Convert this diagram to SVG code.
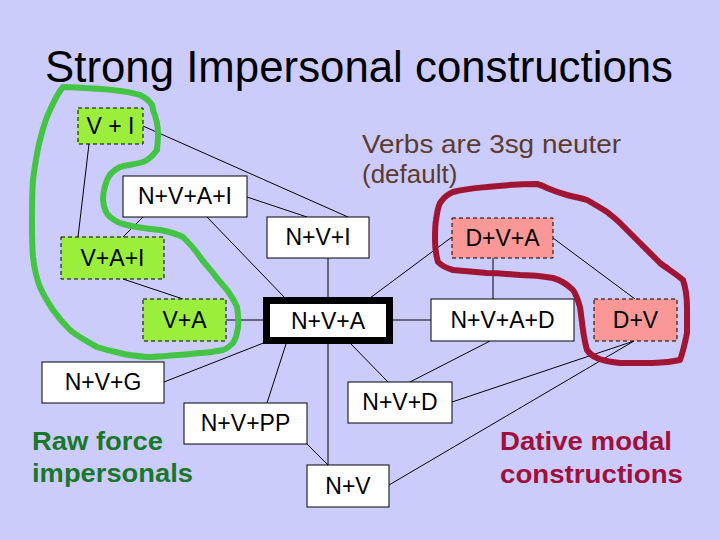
<svg xmlns="http://www.w3.org/2000/svg" width="720" height="540" viewBox="0 0 720 540">
<style>
.bg{fill:#ccccfc}
.n{fill:#ffffff;stroke:#000;stroke-width:1}
.g{fill:#9cee3c;stroke:#000;stroke-width:1;stroke-dasharray:4 3}
.r{fill:#fa9898;stroke:#000;stroke-width:1;stroke-dasharray:4 3}
.t{font-family:"Liberation Sans",Arial,sans-serif;font-size:23px;fill:#000;text-anchor:middle}
.c line{stroke:#000;stroke-width:1}
.blob{fill:none;stroke-width:6;stroke-linejoin:round;stroke-linecap:round}
</style>
<rect class="bg" x="0" y="0" width="720" height="540"/>
<text x="45" y="82" font-family="Liberation Sans,Arial,sans-serif" font-size="44" fill="#000" textLength="628" lengthAdjust="spacingAndGlyphs">Strong Impersonal constructions</text>
<g id="connectors" class="c">
<line x1="89" y1="144" x2="78" y2="237"/>
<line x1="143" y1="126" x2="348" y2="217"/>
<line x1="247" y1="197" x2="307" y2="217"/>
<line x1="143" y1="217" x2="123" y2="237"/>
<line x1="207" y1="217" x2="286" y2="299"/>
<line x1="123" y1="279" x2="183" y2="299"/>
<line x1="226" y1="320" x2="263" y2="320"/>
<line x1="328" y1="258" x2="328" y2="297"/>
<line x1="370" y1="298" x2="452" y2="237"/>
<line x1="393" y1="320" x2="431" y2="320"/>
<line x1="493" y1="258" x2="493" y2="299"/>
<line x1="553" y1="238" x2="635" y2="299"/>
<line x1="266" y1="342" x2="164" y2="382"/>
<line x1="286" y1="344" x2="267" y2="403"/>
<line x1="328" y1="344" x2="328" y2="465"/>
<line x1="349" y1="342" x2="388" y2="382"/>
<line x1="490" y1="341" x2="410" y2="382"/>
<line x1="307" y1="444" x2="328" y2="465"/>
<line x1="452" y1="402" x2="634" y2="341"/>
<line x1="389" y1="485" x2="634" y2="341"/>
</g>
<g id="VI"><rect class="g" x="78" y="108" width="65" height="36"/><text class="t" x="110.5" y="134">V + I</text></g>
<g id="NVAI"><rect class="n" x="123" y="176" width="124" height="41"/><text class="t" x="185" y="204">N+V+A+I</text></g>
<g id="VAI"><rect class="g" x="61" y="237" width="103" height="42"/><text class="t" x="112.5" y="266">V+A+I</text></g>
<g id="VA"><rect class="g" x="143" y="299" width="83" height="42"/><text class="t" x="184.5" y="328">V+A</text></g>
<g id="NVI"><rect class="n" x="267" y="217" width="102" height="41"/><text class="t" x="318" y="245">N+V+I</text></g>
<g id="NVA"><rect x="266.5" y="300.5" width="123" height="40" fill="#fff" stroke="#000" stroke-width="7"/><text class="t" x="328" y="329">N+V+A</text></g>
<g id="DVA"><rect class="r" x="452" y="218" width="101" height="40"/><text class="t" x="502.5" y="246">D+V+A</text></g>
<g id="NVAD"><rect class="n" x="431" y="299" width="143" height="42"/><text class="t" x="502.5" y="328">N+V+A+D</text></g>
<g id="DV"><rect class="r" x="594" y="299" width="83" height="42"/><text class="t" x="635.5" y="328">D+V</text></g>
<g id="NVG"><rect class="n" x="42" y="362" width="122" height="41"/><text class="t" x="103" y="390">N+V+G</text></g>
<g id="NVPP"><rect class="n" x="184" y="403" width="123" height="41"/><text class="t" x="245.5" y="431">N+V+PP</text></g>
<g id="NVD"><rect class="n" x="348" y="382" width="104" height="41"/><text class="t" x="400" y="410">N+V+D</text></g>
<g id="NV"><rect class="n" x="307" y="465" width="82" height="42"/><text class="t" x="348" y="494">N+V</text></g>
<path class="blob" stroke="#44c444" d="M63,87 C95,88 125,90 140,95 C150,100 153,106 153,110 C157,120 158,128 158,133 C158,142 157,148 157,150 C152,157 148,160 143,162 C133,165 126,165 120,167 C112,171 109,175 107,180 C104,188 103,195 103,200 C104,209 106,214 110,217 C116,222 121,224 127,225 C140,228 150,229 160,230 C170,232 177,234 183,237 C190,244 196,251 200,257 C205,264 209,268 213,273 C218,280 223,285 227,290 C232,297 235,302 237,307 C238,314 239,321 238,327 C237,336 235,340 233,343 C229,347 226,349 223,350 C213,352 206,353 200,353 C190,354 183,355 177,355 C165,356 155,357 147,357 C135,356 127,355 120,353 C110,351 103,349 97,347 C86,341 77,336 70,330 C63,323 58,317 53,310 C47,301 43,294 40,287 C36,277 34,266 33,257 C32,245 32,233 32,223 C32,207 32,193 33,180 C35,165 37,151 40,140 C43,128 46,118 50,110 C54,101 58,93 63,87 Z"/>
<path class="blob" stroke="#a01434" d="M440,203 C444,197 448,194 453,192 C464,189 476,188 487,187 C505,185 525,184 537,184 C541,185 544,186 547,188 C554,191 560,193 567,195 C574,197 581,198 587,200 C594,204 601,208 607,212 C612,216 616,219 620,223 C627,230 634,237 640,243 C647,250 654,257 660,263 C668,269 676,274 683,280 C686,289 687,298 687,307 C687,316 687,325 687,333 C685,343 683,352 680,360 C671,362 662,363 653,363 C642,363 631,363 620,363 C611,362 603,361 597,358 C592,356 589,353 587,350 C585,343 584,337 583,330 C582,322 581,314 580,307 C578,300 576,294 573,290 C567,284 560,280 553,278 C542,276 531,275 520,275 C509,274 498,273 487,273 C476,272 464,271 453,270 C446,268 441,265 438,262 C436,255 435,247 435,240 C435,233 435,226 436,220 C437,213 438,207 440,203 Z"/>
<g id="note" font-family="Liberation Sans,Arial,sans-serif" font-size="26" fill="#5c3a2e">
<text x="362" y="153" textLength="259" lengthAdjust="spacingAndGlyphs">Verbs are 3sg neuter</text>
<text x="362" y="183">(default)</text>
</g>
<g id="rawforce" font-family="Liberation Sans,Arial,sans-serif" font-size="25" font-weight="bold" fill="#18782a">
<text x="32" y="450" textLength="131" lengthAdjust="spacingAndGlyphs">Raw force</text>
<text x="32" y="482" textLength="161" lengthAdjust="spacingAndGlyphs">impersonals</text>
</g>
<g id="dative" font-family="Liberation Sans,Arial,sans-serif" font-size="25" font-weight="bold" fill="#a0103c">
<text x="500" y="450" textLength="172" lengthAdjust="spacingAndGlyphs">Dative modal</text>
<text x="500" y="483" textLength="183" lengthAdjust="spacingAndGlyphs">constructions</text>
</g>
</svg>
